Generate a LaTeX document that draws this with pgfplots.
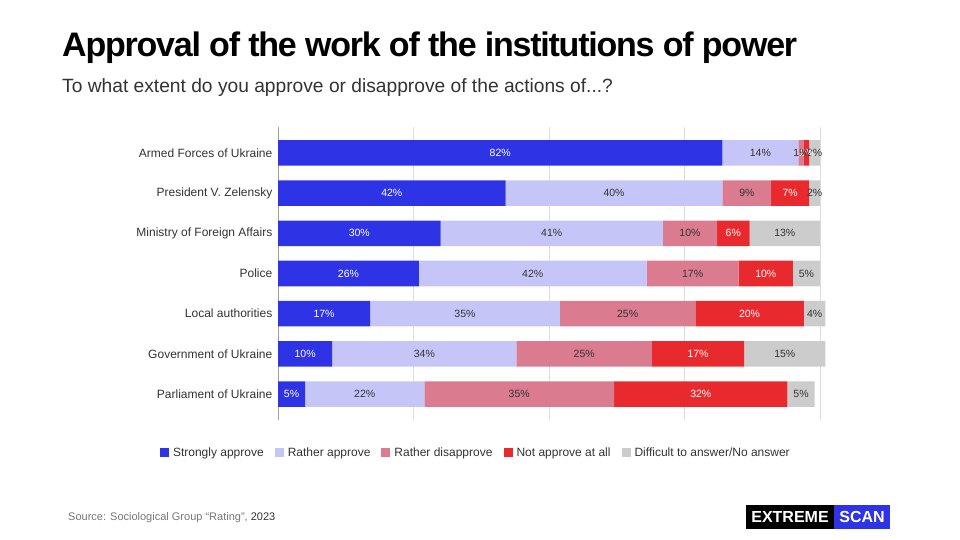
\documentclass[border=0pt]{standalone}
\usepackage{pgfplots}
\pgfplotsset{compat=1.18}
\usepackage{pgfplotstable}
\usepackage{fontspec}
\setmainfont{Liberation Sans}
\newfontfamily\titlefont[LetterSpace=-3.6]{Liberation Sans}

\definecolor{cSA}{RGB}{46,52,230}
\definecolor{cRA}{RGB}{197,198,247}
\definecolor{cRD}{RGB}{218,123,143}
\definecolor{cNA}{RGB}{232,41,45}
\definecolor{cDK}{RGB}{204,204,204}
\definecolor{gridgray}{RGB}{222,222,222}
\definecolor{axisgray}{RGB}{160,160,160}
\definecolor{labelgray}{RGB}{51,51,51}
\definecolor{srcgray}{RGB}{120,120,120}
\definecolor{logoblue}{RGB}{46,52,230}

% Share of answers, %; idx 6 is the top row (rounded shares may sum to 99-101)
\pgfplotstableread{
idx sa ra rd na dk
6   82 14 1  1  2
5   42 40 9  7  2
4   30 41 10 6  13
3   26 42 17 10 5
2   17 35 25 20 4
1   10 34 25 17 15
0   5  22 35 32 5
}\approval

\begin{document}
\begin{tikzpicture}[x=1pt,y=1pt]
\fill[white] (0,0) rectangle (960,540);

\node[anchor=base west, inner sep=0, font=\titlefont\bfseries\fontsize{34}{40}\selectfont]
  at (62,483) {Approval of the work of the institutions of power};
\node[anchor=base west, inner sep=0, text=labelgray, font=\fontsize{19.2}{23}\selectfont]
  at (62,447) {To what extent do you approve or disapprove of the actions of...?};

\begin{axis}[
  at={(278pt,120pt)}, anchor=south west,
  scale only axis, width=547.42pt, height=293pt,
  xbar stacked, bar width=25.6pt,
  xmin=0, xmax=101, ymin=-0.645, ymax=6.645,
  xtick={0,25,50,75,100}, xticklabels={},
  xmajorgrids, major grid style={color=gridgray, line width=0.8pt},
  ytick={0,...,6},
  yticklabels={Parliament of Ukraine, Government of Ukraine, Local authorities, Police,
    Ministry of Foreign Affairs, President V. Zelensky, Armed Forces of Ukraine},
  yticklabel style={font=\fontsize{12}{14}\selectfont, text=labelgray, inner sep=0pt, xshift=-5.5pt},
  major tick length=0pt,
  separate axis lines,
  axis y line*=left, axis x line*=bottom,
  x axis line style={draw=none},
  y axis line style={-, draw=axisgray, line width=0.8pt},
  point meta=explicit,
  /pgf/number format/assume math mode=true,
  nodes near coords={\pgfmathprintnumber{\pgfplotspointmeta}\%},
  every node near coord/.append style={anchor=center,
    font=\fontsize{10.5}{12}\selectfont, text=labelgray, inner sep=0pt},
  legend style={at={(0.3615,-0.1126)}, anchor=center, draw=none, fill=none,
    legend columns=-1, font=\fontsize{12}{14}\selectfont, text=labelgray,
    /tikz/every odd column/.append style={column sep=2pt},
    /tikz/every even column/.append style={column sep=9pt}},
  legend image code/.code={\fill[#1] (0pt,-4.5pt) rectangle (9pt,4.5pt);},
]
\addplot[fill=cSA, draw=none, every node near coord/.append style={text=white}]
  table[x=sa, y=idx, meta=sa] {\approval};
\addplot[fill=cRA, draw=none]
  table[x=ra, y=idx, meta=ra] {\approval};
\addplot[fill=cRD, draw=none]
  table[x=rd, y=idx, meta=rd] {\approval};
\addplot[fill=cNA, draw=none, every node near coord/.append style={text=white}]
  table[x=na, y=idx, meta=na] {\approval};
\addplot[fill=cDK, draw=none]
  table[x=dk, y=idx, meta=dk] {\approval};
\legend{Strongly approve, Rather approve, Rather disapprove, Not approve at all, Difficult to answer/No answer}
\end{axis}

\node[anchor=base west, inner sep=0, text=srcgray, font=\fontsize{11}{13}\selectfont]
  at (68,19) {Source: Sociological Group “Rating”, \textcolor{labelgray}{2023}};

\fill[black] (746,11) rectangle (834,35);
\fill[logoblue] (834,11) rectangle (890,35);
\node[text=white, font=\bfseries\fontsize{16}{18}\selectfont, inner sep=0] at (790,23) {EXTREME};
\node[text=white, font=\bfseries\fontsize{16}{18}\selectfont, inner sep=0] at (862,23) {SCAN};
\end{tikzpicture}
\end{document}
